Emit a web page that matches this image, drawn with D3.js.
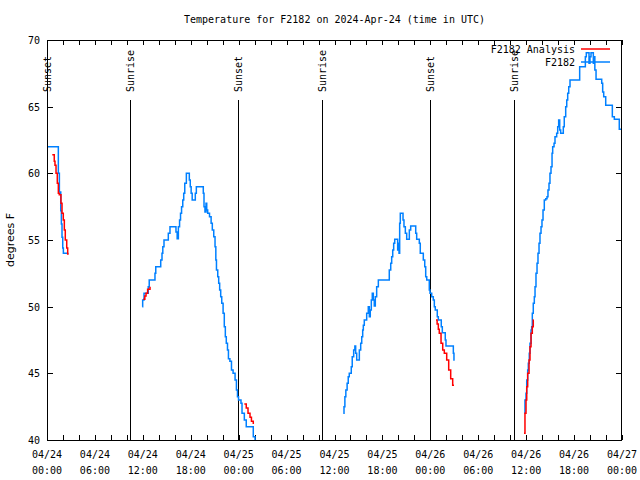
<!DOCTYPE html>
<html>
<head>
<meta charset="utf-8">
<script src="https://cdn.jsdelivr.net/npm/d3@7"></script>
<style>
  html, body { margin: 0; padding: 0; background: #fff; }
  svg { display: block; }
</style>
</head>
<body>
<svg id="chart" width="640" height="480"></svg>
<script>
// ---------------- DATA ----------------
const titleText = "Temperature for F2182 on 2024-Apr-24 (time in UTC)";
const yLabelText = "degrees F";
const startDate = Date.UTC(2024, 3, 24, 0, 0);
const spanHours = 72;
const yTicks = [40, 45, 50, 55, 60, 65, 70];

// hours since 2024-04-24 00:00 UTC; null separates gaps
const obsHours = [
  0, 1.42, 1.55, 1.72, 1.8, 1.88, 1.97, 2.05, 2.67,
  null,
  11.93, 11.98, 12.15, 12.68, 12.8, 13.52, 13.62, 14.24, 14.4, 14.5, 14.65, 15.19, 15.4, 16.15, 16.3, 16.45, 16.6, 16.72, 16.85, 17.0, 17.12, 17.25, 17.45, 17.82, 17.94, 18.05, 18.18, 18.57, 18.7, 19.57, 19.66, 19.78, 19.91, 20.0, 20.12, 20.35, 20.55, 20.7, 20.88, 21.04, 21.14, 21.22, 21.38, 21.5, 21.62, 21.75, 21.88, 22.05, 22.2, 22.33, 22.45, 22.6, 22.72, 22.9, 23.1, 23.3, 23.55, 23.72, 23.85, 23.98, 24.29, 24.42, 24.71, 24.95, 25.83, 26.05, 26.2,
  null,
  37.1, 37.19, 37.3, 37.42, 37.58, 37.72, 37.85, 38.1, 38.22, 38.4, 38.55, 38.65, 38.78, 39.11, 39.28, 39.41, 39.53, 39.61, 39.73, 40.03, 40.23, 40.36, 40.48, 40.61, 40.73, 40.86, 40.98, 41.11, 41.28, 41.49, 42.86, 43.04, 43.16, 43.29, 43.41, 43.54, 43.91, 43.99, 44.08, 44.16, 44.24, 44.58, 44.7, 44.87, 45.04, 45.37, 45.54, 46.17, 46.29, 46.62, 46.74, 47.12, 47.3, 47.42, 47.55, 47.87, 47.96, 48.17, 48.37, 48.5, 48.62, 48.87, 49.0, 49.37, 49.5, 49.87, 49.96, 50.88, 50.96, 51.05,
  null,
  59.77, 59.85, 59.98, 60.07, 60.19, 60.27, 60.39, 60.48, 60.61, 60.69, 60.77, 60.89, 61.02, 61.11, 61.23, 61.36, 61.48, 61.61, 61.73, 61.86, 61.98, 62.11, 62.27, 62.45, 62.61, 62.73, 62.86, 62.98, 63.11, 63.24, 63.32, 63.49, 63.61, 63.82, 63.95, 64.07, 64.2, 64.32, 64.65, 64.77, 64.95, 65.08, 65.2, 65.33, 65.49, 66.7, 67.41, 67.53, 67.87, 67.99, 68.12, 68.41, 68.49, 68.6, 68.75, 69.46, 69.58, 69.71, 69.96, 70.79, 71.04, 71.66, 72.0
];
const obsTemps = [
  62, 60.0, 58.6, 57.2, 56.2, 55.2, 54.4, 54.0, 54.0,
  null,
  50.0, 50.5, 51.0, 51.5, 52.0, 52.5, 53.0, 53.5, 54.0, 54.5, 55.0, 55.5, 56.0, 55.6, 55.1, 56.0, 56.5, 57.0, 57.5, 58.0, 58.5, 59.25, 60.0, 59.5, 59.0, 58.5, 58.0, 58.5, 59.0, 58.5, 57.5, 57.1, 57.75, 57.25, 57.0, 56.75, 56.25, 55.75, 55.25, 54.5, 53.5, 52.75, 52.25, 51.75, 51.25, 50.75, 50.25, 49.5, 48.5, 47.75, 47.25, 46.75, 46.1, 45.9, 45.25, 45.0, 44.5, 43.75, 43.25, 43.0, 42.75, 42.0, 41.5, 41.0, 40.25, 39.5, 39.5,
  null,
  42.0, 42.5, 43.25, 43.75, 44.25, 44.75, 45.0, 45.5, 46.25, 46.75, 47.05, 46.5, 46.0, 46.75, 47.25, 47.75, 48.25, 48.6, 49.0, 49.5, 50.0, 49.25, 49.75, 50.5, 51.0, 50.5, 50.05, 50.75, 51.5, 52.0, 52.75, 53.25, 53.75, 54.25, 54.75, 55.05, 54.25, 54.75, 54.0, 56.25, 57.0, 56.5, 56.0, 55.5, 55.05, 55.75, 56.05, 55.5, 55.05, 54.75, 54.0, 53.5, 53.0, 52.25, 52.0, 51.25, 51.0, 50.75, 50.5, 50.0, 49.75, 49.25, 49.0, 48.5, 48.05, 47.5, 47.05, 46.5, 46.0, 46.0,
  null,
  42.0, 43.0, 43.5, 44.5, 45.25, 45.75, 46.5, 47.25, 48.25, 48.5, 49.5, 50.25, 50.75, 51.5, 52.5, 53.25, 54.0, 54.75, 55.5, 56.0, 56.5, 57.25, 58.0, 58.1, 58.25, 58.75, 59.25, 60.0, 60.5, 61.5, 62.0, 62.25, 62.75, 63.0, 63.5, 64.0, 63.25, 63.0, 63.5, 64.25, 65.0, 65.5, 66.0, 66.5, 67.0, 68.0, 68.75, 69.05, 68.25, 68.75, 69.05, 68.25, 68.75, 67.75, 67.05, 66.75, 66.1, 65.75, 65.1, 64.25, 64.05, 63.3, 63.3
];

const anaHours = [
  0.66, 0.91, 1.0, 1.13, 1.29, 1.42, 1.54, 1.75, 1.88, 2.04, 2.17, 2.29, 2.47, 2.59, 2.72,
  null,
  12.06, 12.25, 12.4, 12.6, 12.9,
  null,
  24.71, 24.95, 25.17, 25.42, 25.6, 25.83,
  null,
  48.71, 48.85, 49.0, 49.12, 49.34, 49.55, 49.75, 50.05, 50.3, 50.55, 50.8, 50.96,
  null,
  59.73, 59.85, 59.98, 60.07, 60.19, 60.36, 60.48, 60.61, 60.77, 60.89, 60.95
];
const anaTemps = [
  61.4, 60.9, 60.6, 60.0, 59.25, 58.5, 58.4, 57.75, 57.0, 56.5, 55.75, 55.0, 54.4, 53.95, 53.95,
  null,
  50.55, 50.8, 51.0, 51.3, 51.5,
  null,
  42.7, 42.4, 42.0, 41.7, 41.4, 41.2,
  null,
  49.0, 48.7, 48.3, 48.0, 47.25, 46.75, 46.5, 46.0, 45.25, 44.6, 44.1, 44.1,
  null,
  40.5, 42.0, 43.0, 44.0, 45.0, 46.0, 47.0, 48.0, 48.5, 49.0, 49.0
];

const eventLabels = ["Sunset", "Sunrise", "Sunset", "Sunrise", "Sunset", "Sunrise"];
const eventHours = [0, 10.39, 23.95, 34.43, 48.0, 58.48];

const seriesNames = ["F2182 Analysis", "F2182"];
const seriesColors = ["#ff0000", "#0080ff"];

// ---------------- CHART ----------------
const svg = d3.select("#chart");
const W = 640, H = 480;
const m = { left: 47, right: 18, top: 40, bottom: 40 };
const x0 = m.left, x1 = W - m.right, y0 = m.top, y1 = H - m.bottom;
const monoFont = "'DejaVu Sans Mono', monospace";
const sansFont = "'DejaVu Sans', sans-serif";

const hourToDate = h => new Date(startDate + h * 3600000);
const x = d3.scaleUtc().domain([hourToDate(0), hourToDate(spanHours)]).range([x0, x1]);
const y = d3.scaleLinear().domain([40, 70]).range([y1, y0]);

svg.append("rect").attr("width", W).attr("height", H).attr("fill", "#fff");

svg.append("defs").append("clipPath").attr("id", "plotclip")
  .append("rect").attr("x", x0).attr("y", y0).attr("width", x1 - x0).attr("height", y1 - y0);

// title (centred over the plot area)
svg.append("text").attr("x", (x0 + x1) / 2).attr("y", 23).attr("text-anchor", "middle")
  .attr("font-family", monoFont).attr("font-size", 10).text(titleText);

// y label
svg.append("text").attr("transform", `translate(14,${(y0 + y1) / 2}) rotate(-90)`)
  .attr("text-anchor", "middle").attr("font-family", sansFont).attr("font-size", 11)
  .text(yLabelText);

// axes ticks
const tickDates = d3.range(0, spanHours + 0.01, 2).map(hourToDate);
const labelDates = d3.range(0, spanHours + 0.01, 6).map(hourToDate);
const ax = svg.append("g").attr("stroke", "#000").attr("stroke-width", 1).attr("shape-rendering", "crispEdges");
tickDates.forEach(d => {
  const xx = Math.round(x(d)) + 0.5;
  ax.append("line").attr("x1", xx).attr("x2", xx).attr("y1", y1).attr("y2", y1 - 5);
  ax.append("line").attr("x1", xx).attr("x2", xx).attr("y1", y0).attr("y2", y0 + 5);
});
yTicks.forEach(v => {
  const yy = Math.round(y(v)) + 0.5;
  ax.append("line").attr("x1", x0).attr("x2", x0 + 6).attr("y1", yy).attr("y2", yy);
  ax.append("line").attr("x1", x1).attr("x2", x1 - 6).attr("y1", yy).attr("y2", yy);
});

const fmtDay = d3.utcFormat("%m/%d");
const fmtTime = d3.utcFormat("%H:%M");
const xl = svg.append("g").attr("font-family", monoFont).attr("font-size", 10).attr("text-anchor", "middle");
labelDates.forEach(d => {
  const t = xl.append("text").attr("x", x(d));
  t.append("tspan").attr("x", x(d)).attr("y", 458).text(fmtDay(d));
  t.append("tspan").attr("x", x(d)).attr("y", 474).text(fmtTime(d));
});
const yl = svg.append("g").attr("font-family", monoFont).attr("font-size", 10).attr("text-anchor", "end");
yTicks.forEach(v => {
  yl.append("text").attr("x", 40).attr("y", y(v) + 4).text(v);
});

// sunrise / sunset markers
eventHours.forEach((h, i) => {
  const xx = Math.round(x(hourToDate(h))) + 0.5;
  svg.append("line").attr("x1", xx).attr("x2", xx).attr("y1", 100).attr("y2", y1)
    .attr("stroke", "#000").attr("stroke-width", 1).attr("shape-rendering", "crispEdges");
  svg.append("text").attr("transform", `translate(${xx + 3.5},92) rotate(-90)`)
    .attr("text-anchor", "start").attr("font-family", monoFont).attr("font-size", 10)
    .text(eventLabels[i]);
});

// series
function buildPoints(hours, temps) {
  return hours.map((h, i) => (h === null ? null : { t: hourToDate(h), v: temps[i] }));
}
const line = d3.line().defined(d => d !== null).x(d => x(d.t)).y(d => y(d.v)).curve(d3.curveStepAfter);
const plot = svg.append("g").attr("clip-path", "url(#plotclip)");
plot.append("path").datum(buildPoints(obsHours, obsTemps)).attr("d", line)
  .attr("fill", "none").attr("stroke", seriesColors[1]).attr("stroke-width", 1.5);
plot.append("path").datum(buildPoints(anaHours, anaTemps)).attr("d", line)
  .attr("fill", "none").attr("stroke", seriesColors[0]).attr("stroke-width", 1.5);

// frame
svg.append("rect").attr("x", x0 + 0.5).attr("y", y0 + 0.5).attr("width", x1 - x0 - 1).attr("height", y1 - y0)
  .attr("fill", "none").attr("stroke", "#000").attr("stroke-width", 1).attr("shape-rendering", "crispEdges");

// legend
const lg = svg.append("g").attr("font-family", monoFont).attr("font-size", 10);
seriesNames.forEach((name, i) => {
  const ly = 49 + i * 13;
  lg.append("text").attr("x", 575).attr("y", ly + 4).attr("text-anchor", "end").text(name);
  lg.append("line").attr("x1", 581).attr("x2", 610).attr("y1", ly).attr("y2", ly)
    .attr("stroke", seriesColors[i]).attr("stroke-width", 1.5);
});
</script>
</body>
</html>
